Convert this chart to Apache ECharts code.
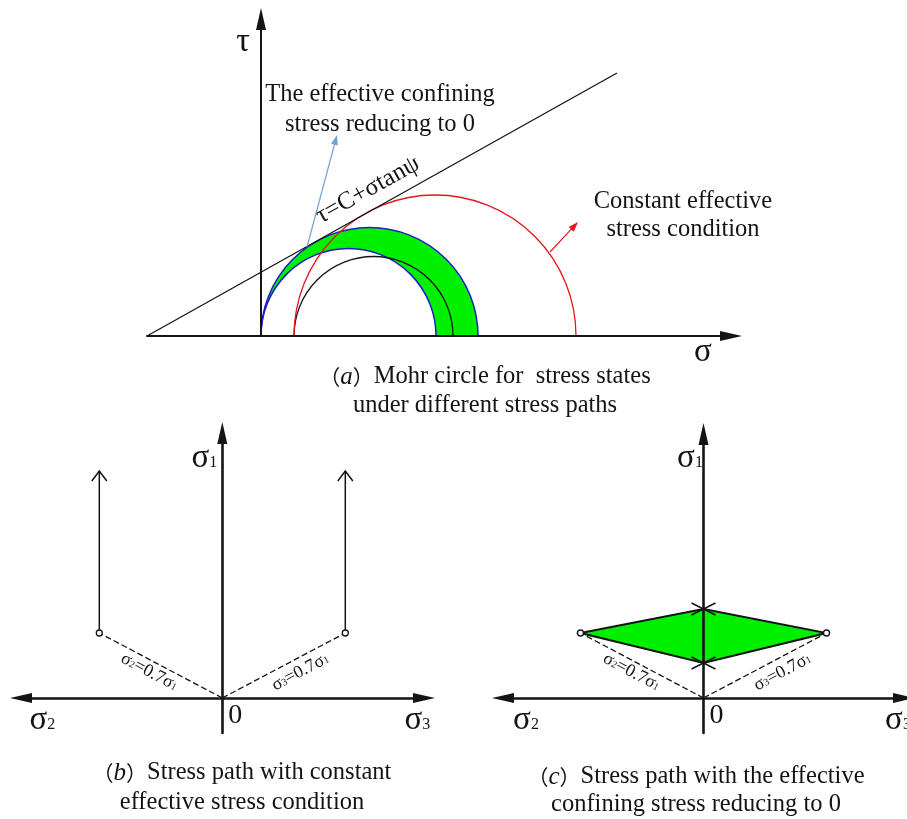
<!DOCTYPE html>
<html>
<head>
<meta charset="utf-8">
<title>Mohr circles and stress paths</title>
<script src="https://cdn.jsdelivr.net/npm/echarts@6.0.0/dist/echarts.min.js"></script>
<style>
  html, body { margin: 0; padding: 0; background: #fff; }
  #main { width: 907px; height: 819px; }
</style>
</head>
<body>
<div id="main"></div>
<script>
// ---- (a) Mohr circles, each given as [sigma3, sigma1] ----
const redCircle = [3.3, 31.5];          // constant effective stress
const blackCircle = [3.3, 19.2];
const blueOuterCircle = [0, 21.7];      // effective confining stress reduced to 0
const blueInnerCircle = [0, 17.5];
// strength envelope tau = C + sigma*tan(psi), end points [sigma, tau]
const envelope = [[-11.4, 0], [35.6, 26.3]];
// leader arrows [from, to]
const confiningArrow = [[4.6, 8.9], [7.6, 20.1]];
const constantArrow = [[28.9, 8.4], [31.7, 11.4]];

// ---- (b), (c) stress paths, points given as [horizontal, sigma1] ----
const startPoints = [[-12.3, 6.5], [12.3, 6.5]];
const loadingEnd = 22.7;                // sigma1 reached by the loading paths in (b)
const unloadingPolygon = [[-12.3, 6.5], [0, 8.9], [12.3, 6.5], [0, 3.5]];
const turningPoints = [[0, 8.9], [0, 3.5]];

// ---- texts ----
const envelopeText = 'τ=C+σtanψ';
const confiningText = 'The effective confining\nstress reducing to 0';
const constantText = 'Constant effective\nstress condition';
const ratioTexts = ['{f|σ}{fs|2}{f|=0.7σ}{fs|1}', '{f|σ}{fs|3}{f|=0.7σ}{fs|1}'];
const captionA = '{p|（}{i|a}{p|）}Mohr circle for  stress states\nunder different stress paths';
const captionB = '{p|（}{i|b}{p|）}Stress path with constant\neffective stress condition';
const captionC = '{p|（}{i|c}{p|）}Stress path with the effective\nconfining stress reducing to 0';

const SERIF = "'Liberation Serif', 'Times New Roman', serif";
const CJK = "'Noto Sans CJK SC', sans-serif";
const INK = '#141414';
const GREEN = '#00f000';
const BLUE = '#1c1cc8';
const RED = '#e5161c';
const LIGHTBLUE = '#72a0d6';

const RICH = {
  g: { fontFamily: SERIF, fontSize: 33, fill: INK, verticalAlign: 'bottom' },
  s: { fontFamily: SERIF, fontSize: 16, fill: INK, verticalAlign: 'bottom', padding: [0, 0, 4, 0] },
  f: { fontFamily: SERIF, fontSize: 18, fill: INK, verticalAlign: 'bottom' },
  fs: { fontFamily: SERIF, fontSize: 10, fill: INK, verticalAlign: 'bottom', padding: [0, 0, 2, 0] },
  p: { fontFamily: CJK, fontSize: 21, fill: INK },
  i: { fontFamily: SERIF, fontSize: 25, fontStyle: 'italic', fill: INK }
};

const ARROW = 'path://M5 0 L10 22 L0 22 Z';

function ptsOf(api, n) {
  const out = [];
  for (let i = 0; i < n; i++) out.push(api.coord([api.value(2 * i), api.value(2 * i + 1)]));
  return out;
}

// straight segments [x0, y0, x1, y1], optionally with an arrow head at the end
function segmentSeries(grid, items, style, head) {
  return {
    type: 'custom', xAxisIndex: grid, yAxisIndex: grid, clip: false, silent: true, z: 3,
    data: items,
    renderItem: function (params, api) {
      const [p0, p1] = ptsOf(api, 2);
      const dx = p1[0] - p0[0], dy = p1[1] - p0[1], len = Math.hypot(dx, dy);
      const ux = dx / len, uy = dy / len, nx = -uy, ny = ux;
      let end = p1;
      if (head && head.fill) end = [p1[0] - ux * head.len * 0.6, p1[1] - uy * head.len * 0.6];
      const children = [{
        type: 'line',
        shape: { x1: p0[0], y1: p0[1], x2: end[0], y2: end[1] },
        style: Object.assign({ fill: null }, style)
      }];
      if (head) {
        const bx = p1[0] - ux * head.len, by = p1[1] - uy * head.len, hw = head.width / 2;
        const a = [bx + nx * hw, by + ny * hw], b = [bx - nx * hw, by - ny * hw];
        if (head.fill) {
          children.push({ type: 'polygon', shape: { points: [p1, a, b] }, style: { fill: style.stroke } });
        } else {
          children.push({ type: 'polyline', shape: { points: [a, p1, b] },
            style: { stroke: style.stroke, lineWidth: style.lineWidth, fill: null } });
        }
      }
      return { type: 'group', children: children };
    }
  };
}

// upper half of a Mohr circle
function arcSeries(grid, circles, colors, lw) {
  return {
    type: 'custom', xAxisIndex: grid, yAxisIndex: grid, clip: false, silent: true, z: 3,
    data: circles,
    renderItem: function (params, api) {
      const s3 = api.value(0), s1 = api.value(1);
      const c = api.coord([(s1 + s3) / 2, 0]);
      const r = api.size([(s1 - s3) / 2, 0])[0];
      return {
        type: 'arc',
        shape: { cx: c[0], cy: c[1], r: r, startAngle: Math.PI, endAngle: 2 * Math.PI, clockwise: true },
        style: { stroke: colors[params.dataIndex], lineWidth: lw, fill: null }
      };
    }
  };
}

// band between two half circles
function bandSeries(grid, outer, inner) {
  return {
    type: 'custom', xAxisIndex: grid, yAxisIndex: grid, clip: false, silent: true, z: 2,
    data: [outer.concat(inner)],
    renderItem: function (params, api) {
      const circ = (s3, s1) => ({ c: api.coord([(s1 + s3) / 2, 0]), r: api.size([(s1 - s3) / 2, 0])[0] });
      const o = circ(api.value(0), api.value(1));
      const q = circ(api.value(2), api.value(3));
      const pts = [];
      const N = 120;
      for (let k = 0; k <= N; k++) {
        const a = Math.PI + Math.PI * k / N;
        pts.push([o.c[0] + o.r * Math.cos(a), o.c[1] + o.r * Math.sin(a)]);
      }
      for (let k = N; k >= 0; k--) {
        const a = Math.PI + Math.PI * k / N;
        pts.push([q.c[0] + q.r * Math.cos(a), q.c[1] + q.r * Math.sin(a)]);
      }
      return { type: 'polygon', shape: { points: pts }, style: { fill: GREEN } };
    }
  };
}

function polygonSeries(grid, corners) {
  return {
    type: 'custom', xAxisIndex: grid, yAxisIndex: grid, clip: false, silent: true, z: 2,
    data: [corners.flat()],
    renderItem: function (params, api) {
      return { type: 'polygon', shape: { points: ptsOf(api, corners.length) },
        style: { fill: GREEN, stroke: INK, lineWidth: 2, lineJoin: 'miter' } };
    }
  };
}

function markerSeries(grid, pts) {
  return {
    type: 'custom', xAxisIndex: grid, yAxisIndex: grid, clip: false, silent: true, z: 7,
    data: pts,
    renderItem: function (params, api) {
      const p = api.coord([api.value(0), api.value(1)]);
      return { type: 'circle', shape: { cx: p[0], cy: p[1], r: 3 },
        style: { stroke: INK, lineWidth: 1.3, fill: '#fff' } };
    }
  };
}

function crossSeries(grid, pts) {
  return {
    type: 'custom', xAxisIndex: grid, yAxisIndex: grid, clip: false, silent: true, z: 7,
    data: pts,
    renderItem: function (params, api) {
      const p = api.coord([api.value(0), api.value(1)]);
      const st = { stroke: INK, lineWidth: 1.4, fill: null };
      return { type: 'group', children: [
        { type: 'line', shape: { x1: p[0] - 12, y1: p[1] - 6, x2: p[0] + 12, y2: p[1] + 6 }, style: st },
        { type: 'line', shape: { x1: p[0] - 12, y1: p[1] + 6, x2: p[0] + 12, y2: p[1] - 6 }, style: st }
      ] };
    }
  };
}

// texts anchored in axis coordinates
function textSeries(grid, labels) {
  return {
    type: 'custom', xAxisIndex: grid, yAxisIndex: grid, clip: false, silent: true, z: 8,
    data: labels.map(l => l.at),
    renderItem: function (params, api) {
      const l = labels[params.dataIndex];
      const p = api.coord([api.value(0), api.value(1)]);
      return {
        type: 'text', x: p[0], y: p[1], rotation: (l.rotate || 0) * Math.PI / 180,
        style: Object.assign({
          text: l.text, align: 'center', verticalAlign: 'middle', fill: INK,
          fontFamily: SERIF, fontSize: 24, rich: RICH
        }, l.style || {})
      };
    }
  };
}

function axes(grid, xr, yr, lw, xSym, ySym) {
  const common = {
    gridIndex: grid, type: 'value', z: 5,
    axisTick: { show: false }, axisLabel: { show: false }, splitLine: { show: false }
  };
  return {
    x: Object.assign({}, common, { min: xr[0], max: xr[1],
      axisLine: { onZero: true, symbol: xSym, symbolSize: [10, 22], lineStyle: { color: INK, width: lw } } }),
    y: Object.assign({}, common, { min: yr[0], max: yr[1],
      axisLine: { onZero: true, symbol: ySym, symbolSize: [10, 22], lineStyle: { color: INK, width: lw } } })
  };
}

const A = axes(0, [-11.4, 47.0], [0, 31.7], 2, ['none', ARROW], ['none', ARROW]);
const B = axes(1, [-20.13, 20.17], [-3.5, 26.5], 2.6, [ARROW, ARROW], ['none', ARROW]);
const C = axes(2, [-20.05, 20.05], [-3.5, 26.4], 2.6, [ARROW, ARROW], ['none', ARROW]);

const dashed = startPoints.map(p => [0, 0, p[0], p[1]]);
const loadingPaths = startPoints.map(p => [p[0], p[1], p[0], loadingEnd]);
const dashStyle = { stroke: INK, lineWidth: 1.3, lineDash: [6, 3] };

function pathLabels(sx) {
  return [
    { at: [sx.s1, 24.0], text: '{g|σ}{s|1}' },
    { at: [sx.s2, -2.2], text: '{g|σ}{s|2}' },
    { at: [sx.s3, -2.2], text: '{g|σ}{s|3}' },
    { at: [1.3, -1.8], text: '0', style: { fontSize: 28 } },
    { at: [sx.r2, 2.6], text: ratioTexts[0], rotate: -28 },
    { at: [sx.r3, 2.6], text: ratioTexts[1], rotate: 28 }
  ];
}

const option = {
  animation: false,
  backgroundColor: '#fff',
  textStyle: { fontFamily: SERIF },
  grid: [
    { left: 147, top: 19, width: 584, height: 317, outerBoundsMode: 'none' },
    { left: 21, top: 433, width: 403, height: 300, outerBoundsMode: 'none' },
    { left: 503, top: 434, width: 401, height: 299, outerBoundsMode: 'none' }
  ],
  xAxis: [A.x, B.x, C.x],
  yAxis: [A.y, B.y, C.y],
  graphic: [
    { type: 'text', x: 485, y: 391.5, style: { text: captionA, rich: RICH, align: 'center', verticalAlign: 'middle',
      fontFamily: SERIF, fontSize: 24.5, lineHeight: 29, fill: INK } },
    { type: 'text', x: 242, y: 788, style: { text: captionB, rich: RICH, align: 'center', verticalAlign: 'middle',
      fontFamily: SERIF, fontSize: 24.5, lineHeight: 30, fill: INK } },
    { type: 'text', x: 696, y: 791, style: { text: captionC, rich: RICH, align: 'center', verticalAlign: 'middle',
      fontFamily: SERIF, fontSize: 24.5, lineHeight: 28, fill: INK } }
  ],
  series: [
    // (a)
    bandSeries(0, blueOuterCircle, blueInnerCircle),
    arcSeries(0, [blueOuterCircle, blueInnerCircle], [BLUE, BLUE], 1.5),
    arcSeries(0, [blackCircle, redCircle], [INK, RED], 1.3),
    segmentSeries(0, [envelope.flat()], { stroke: INK, lineWidth: 1.3 }),
    segmentSeries(0, [confiningArrow.flat()], { stroke: LIGHTBLUE, lineWidth: 1.2 }, { fill: true, len: 10, width: 7 }),
    segmentSeries(0, [constantArrow.flat()], { stroke: RED, lineWidth: 1.1 }, { fill: true, len: 10, width: 7 }),
    textSeries(0, [
      { at: [-1.8, 29.4], text: 'τ', style: { fontSize: 34 } },
      { at: [44.2, -1.6], text: 'σ', style: { fontSize: 33 } },
      { at: [10.7, 14.6], text: envelopeText, rotate: 29, style: { fontSize: 25 } },
      { at: [11.9, 22.6], text: confiningText, style: { lineHeight: 30, fontSize: 24.5 } },
      { at: [42.2, 12.0], text: constantText, style: { lineHeight: 28, fontSize: 24.5 } }
    ]),
    // (b)
    segmentSeries(1, dashed, dashStyle),
    segmentSeries(1, loadingPaths, { stroke: INK, lineWidth: 1.5 }, { fill: false, len: 10, width: 15 }),
    markerSeries(1, startPoints),
    textSeries(1, pathLabels({ s1: -1.8, s2: -18.0, s3: 19.5, r2: -7.3, r3: 7.8 })),
    // (c)
    polygonSeries(2, unloadingPolygon),
    segmentSeries(2, dashed, dashStyle),
    crossSeries(2, turningPoints),
    markerSeries(2, startPoints),
    textSeries(2, pathLabels({ s1: -1.35, s2: -17.75, s3: 19.45, r2: -7.2, r3: 7.9 }))
  ]
};

const chart = echarts.init(document.getElementById('main'));
chart.setOption(option);
</script>
</body>
</html>
